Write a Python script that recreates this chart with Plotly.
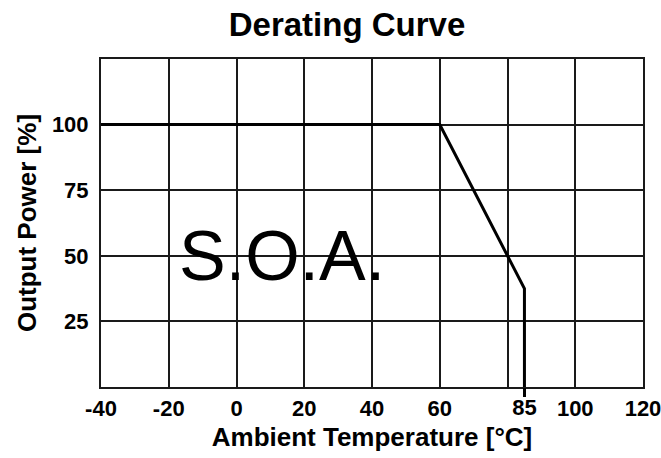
import plotly.graph_objects as go

# Data
temperature = [-40, 60, 85, 85]
output_power = [100, 100, 37.5, 0]
grid_x = [-40, -20, 0, 20, 40, 60, 80, 100, 120]
grid_x_labels = ["-40", "-20", "0", "20", "40", "60", "", "100", "120"]
extra_tick = [85]
extra_tick_label = ["85"]
y_ticks = [25, 50, 75, 100]
y_labels = ["25", "50", "75", "100"]

FONT = "Liberation Sans, Arial, sans-serif"

fig = go.Figure()
fig.add_trace(go.Scatter(x=temperature, y=output_power, mode="lines",
                         line=dict(color="black", width=3), showlegend=False,
                         hoverinfo="skip"))
fig.add_trace(go.Scatter(x=[85], y=[0], xaxis="x2", mode="markers",
                         marker=dict(opacity=0), showlegend=False, hoverinfo="skip"))

fig.add_annotation(x=13.5, y=50, text="S.O.A.", showarrow=False,
                   font=dict(family=FONT, size=70, color="black"))

fig.update_layout(
    width=661, height=458,
    margin=dict(l=101, r=18, t=59, b=71),
    paper_bgcolor="white", plot_bgcolor="white",
    title=dict(text="<b>Derating Curve</b>", x=347/661, xref="container", xanchor="center",
               y=1 - 24/458, yref="container", yanchor="middle", automargin=False,
               font=dict(family=FONT, size=33, color="black")),
    font=dict(family=FONT, color="black"),
    xaxis=dict(range=[-40, 120], tickvals=grid_x, ticktext=grid_x_labels,
               showgrid=True, gridcolor="#1a1a1a", gridwidth=2, automargin=False,
               showline=True, linecolor="#1a1a1a", linewidth=2, mirror=True,
               zeroline=False, ticks="outside", ticklen=1, tickcolor="rgba(0,0,0,0)",
               ticklabeloverflow="allow",
               tickfont=dict(family=FONT, size=22, color="black", weight="bold"),
               title=dict(text="<b>Ambient Temperature [°C]</b>", standoff=7,
                          font=dict(family=FONT, size=26, color="black"))),
    xaxis2=dict(range=[-40, 120], overlaying="x", side="bottom", anchor="y",
                tickvals=extra_tick, ticktext=extra_tick_label, automargin=False,
                showgrid=False, zeroline=False, showline=False,
                ticks="outside", ticklen=9, tickwidth=3, tickcolor="black",
                ticklabelstandoff=-8, ticklabeloverflow="allow",
                tickfont=dict(family=FONT, size=22, color="black", weight="bold")),
    yaxis=dict(range=[0, 125], tickvals=y_ticks, ticktext=y_labels,
               showgrid=True, gridcolor="#1a1a1a", gridwidth=2, automargin=False,
               showline=True, linecolor="#1a1a1a", linewidth=2, mirror=True,
               zeroline=False, ticks="outside", ticklen=6, tickcolor="rgba(0,0,0,0)",
               tickfont=dict(family=FONT, size=22, color="black", weight="bold"),
               title=dict(text="<b>Output Power [%]</b>", standoff=8,
                          font=dict(family=FONT, size=26, color="black"))),
)

fig.write_html("out.html", config={"displayModeBar": False},
               post_script="document.body.style.margin='0';")
